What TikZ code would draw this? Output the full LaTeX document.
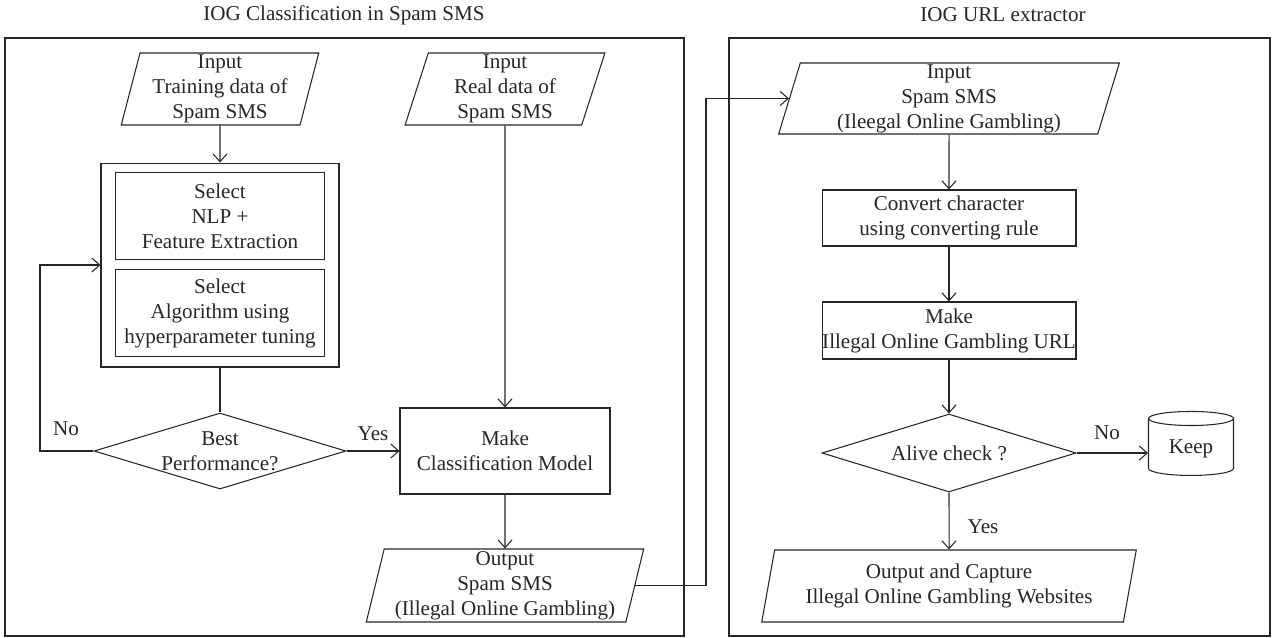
\documentclass[tikz,border=0pt]{standalone}
\usepackage{fontspec}
\setmainfont{Liberation Serif}
\usepackage{tikz}
\usetikzlibrary{shapes.geometric,arrows.meta}

\tikzset{
  io/.style={trapezium, trapezium left angle=76, trapezium right angle=104,
    trapezium stretches=true, draw, align=center, inner xsep=3pt, inner ysep=0pt},
  proc/.style={rectangle, draw, align=center},
  dec/.style={diamond, draw, align=center, inner sep=-2pt, aspect=3.3},
  arr/.style={-{Straight Barb[length=4.5pt,width=8pt]}},
}

\begin{document}
\begin{tikzpicture}[x=0.02cm, y=-0.02cm, line width=0.6pt, color=black!85,
  font=\fontsize{12}{14.2}\selectfont]
\useasboundingbox (0,0) rectangle (1274,637);

\node (ttl1) at (344,15) {IOG Classification in Spam SMS};
\node (ttl2) at (1003,15) {IOG URL extractor};
\draw (5,38) rectangle (684,636);
\draw (729,38) rectangle (1270,636);

% classification
\node[io, minimum width=3.95cm, minimum height=1.44cm] (in1) at (220,89) {Input\\Training data of\\Spam SMS};
\node[io, minimum width=4cm, minimum height=1.44cm] (in2) at (505,89) {Input\\Real data of\\Spam SMS};
\node[proc, minimum width=4.76cm, minimum height=4.08cm] (grp) at (220,265) {};
\node[proc, minimum width=4.18cm, minimum height=1.74cm] (sel1) at (220,216) {Select\\NLP +\\Feature Extraction};
\node[proc, minimum width=4.18cm, minimum height=1.74cm] (sel2) at (220,313) {Select\\Algorithm using\\hyperparameter tuning};
\node[dec, minimum width=5.04cm, minimum height=1.52cm] (dec1) at (220,451) {Best\\Performance?};
\node[proc, minimum width=4.2cm, minimum height=1.72cm] (mk) at (505,451) {Make\\Classification Model};
\node[io, minimum width=5.56cm, minimum height=1.46cm] (out1) at (505,585.5) {Output\\Spam SMS\\(Illegal Online Gambling)};
\node (no1) at (66,429) {No};
\node (yes1) at (373,434) {Yes};

% url extractor
\node[io, minimum width=6.82cm, minimum height=1.42cm] (in3) at (949,98.5) {Input\\Spam SMS\\(Ileegal Online Gambling)};
\node[proc, minimum width=5.08cm, minimum height=1.12cm] (conv) at (949,218) {Convert character\\using converting rule};
\node[proc, inner xsep=0pt, minimum width=5.08cm, minimum height=1.14cm] (url) at (949,330.5) {Make\\Illegal Online Gambling URL};
\node[dec, minimum width=5.08cm, minimum height=1.56cm] (dec2) at (949,453) {Alive check ?};
\node[cylinder, shape border rotate=90, aspect=0.25, draw, minimum width=1.7cm, minimum height=1.28cm] (keep) at (1191,449) {Keep};
\node[io, minimum width=7.5cm, minimum height=1.44cm] (out2) at (949,586) {Output and Capture\\Illegal Online Gambling Websites};
\node (no2) at (1107,433) {No};
\node (yes2) at (983,527) {Yes};

\coordinate (fb) at (40,0);
\coordinate (jn) at (706,0);

\draw[arr] (in1) -- (grp);
\draw (grp) -- (dec1);
\draw[arr] (dec1.west) -- (dec1.west -| fb) |- (grp.west);
\draw[arr] (dec1) -- (mk);
\draw[arr] (in2) -- (mk);
\draw[arr] (mk) -- (out1);
\draw[arr] (out1.east) -- (out1.east -| jn) |- (in3.west);
\draw[arr] (in3) -- (conv);
\draw[arr] (conv) -- (url);
\draw[arr] (url) -- (dec2);
\draw[arr] (dec2.east) -- (dec2.east -| keep.west);
\draw[arr] (dec2) -- (out2);
\end{tikzpicture}
\end{document}
